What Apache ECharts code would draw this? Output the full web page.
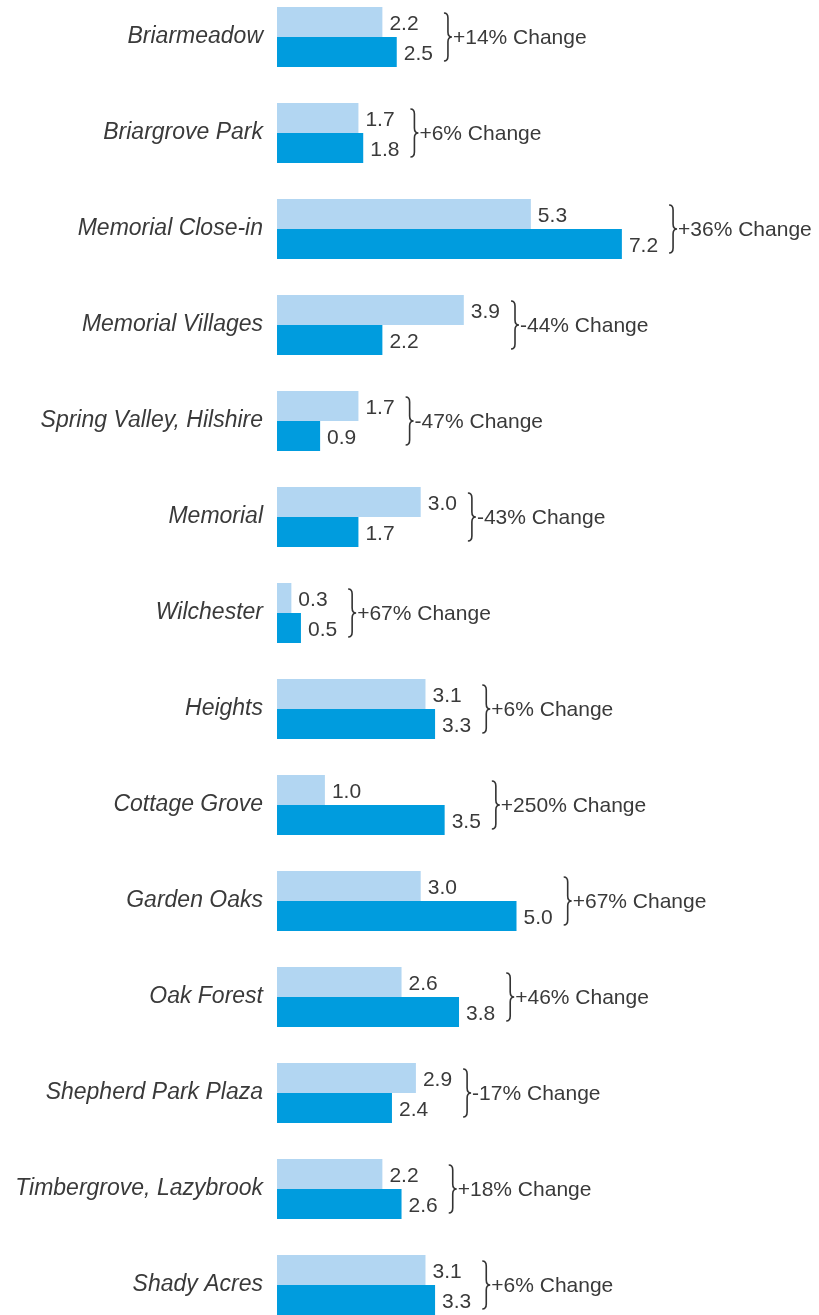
<!DOCTYPE html>
<html>
<head>
<meta charset="utf-8">
<script src="https://cdn.jsdelivr.net/npm/echarts@6/dist/echarts.min.js"></script>
<style>
html,body{margin:0;padding:0;background:#fff;}
#chart{width:819px;height:1315px;}
</style>
</head>
<body>
<div id="chart"></div>
<script>
const categories = ['Briarmeadow','Briargrove Park','Memorial Close-in','Memorial Villages','Spring Valley, Hilshire','Memorial','Wilchester','Heights','Cottage Grove','Garden Oaks','Oak Forest','Shepherd Park Plaza','Timbergrove, Lazybrook','Shady Acres'];
const previousValues = [2.2,1.7,5.3,3.9,1.7,3.0,0.3,3.1,1.0,3.0,2.6,2.9,2.2,3.1];
const currentValues = [2.5,1.8,7.2,2.2,0.9,1.7,0.5,3.3,3.5,5.0,3.8,2.4,2.6,3.3];
const changeLabels = ['+14%','+6%','+36%','-44%','-47%','-43%','+67%','+6%','+250%','+67%','+46%','-17%','+18%','+6%'];

const FONT = '"Liberation Sans", Arial, sans-serif';
const VAL_SIZE = 21;
const TEXT_COLOR = '#3a3a3a';
const measureCtx = document.createElement('canvas').getContext('2d');
measureCtx.font = VAL_SIZE + 'px ' + FONT;
function textW(s){ return measureCtx.measureText(s).width; }

const braceData = categories.map((c,i)=>{
  const m = Math.max(previousValues[i], currentValues[i]);
  const lw = Math.max(textW(previousValues[i].toFixed(1)), textW(currentValues[i].toFixed(1)));
  return [m, i, lw];
});

const chart = echarts.init(document.getElementById('chart'), null, {renderer:'canvas'});
const labelCfg = {
  show:true, position:'right', distance:7, offset:[0,2],
  fontFamily:FONT, fontSize:VAL_SIZE, color:TEXT_COLOR,
  formatter:p=>Number(p.value).toFixed(1)
};
chart.setOption({
  animation:false,
  grid:{left:277, top:37, width:479, height:1248, containLabel:false},
  xAxis:{type:'value', min:0, max:10, show:false, splitLine:{show:false}},
  yAxis:{
    type:'category', data:categories, inverse:true, boundaryGap:false,
    axisLine:{show:false}, axisTick:{show:false}, splitLine:{show:false},
    axisLabel:{margin:14, fontFamily:FONT, fontSize:23, fontStyle:'italic', color:TEXT_COLOR}
  },
  series:[
    {type:'bar', name:'Previous', data:previousValues, barWidth:30, barGap:'0%',
     itemStyle:{color:'#B2D6F2'}, label:labelCfg},
    {type:'bar', name:'Current', data:currentValues, barWidth:30, barGap:'0%',
     itemStyle:{color:'#009CDE'}, label:labelCfg},
    {type:'custom', name:'Change', data:braceData, clip:false, encode:{x:0,y:1},
     renderItem:function(params, api){
       const v = api.value(0), idx = api.value(1), lw = api.value(2);
       const pt = api.coord([v, idx]);
       const x0 = pt[0] + 7 + lw + 11;
       const cy = pt[1];
       const h = 24;
       const top = cy - h, bot = cy + h;
       const w = 8, mx = x0 + w/2;
       const d = 'M'+x0+','+top+
         ' Q'+mx+','+top+' '+mx+','+(top+5)+
         ' L'+mx+','+(cy-5)+
         ' Q'+mx+','+cy+' '+(x0+w)+','+cy+
         ' Q'+mx+','+cy+' '+mx+','+(cy+5)+
         ' L'+mx+','+(bot-5)+
         ' Q'+mx+','+bot+' '+x0+','+bot;
       return {type:'group', children:[
         {type:'path', shape:{pathData:d}, style:{stroke:'#333', lineWidth:1.6, fill:null}},
         {type:'text', style:{text:changeLabels[idx]+' Change', x:x0+w+1, y:cy+1,
           fontFamily:FONT, fontSize:VAL_SIZE, fill:TEXT_COLOR, verticalAlign:'middle', align:'left'}}
       ]};
     }}
  ]
});
</script>
</body>
</html>
